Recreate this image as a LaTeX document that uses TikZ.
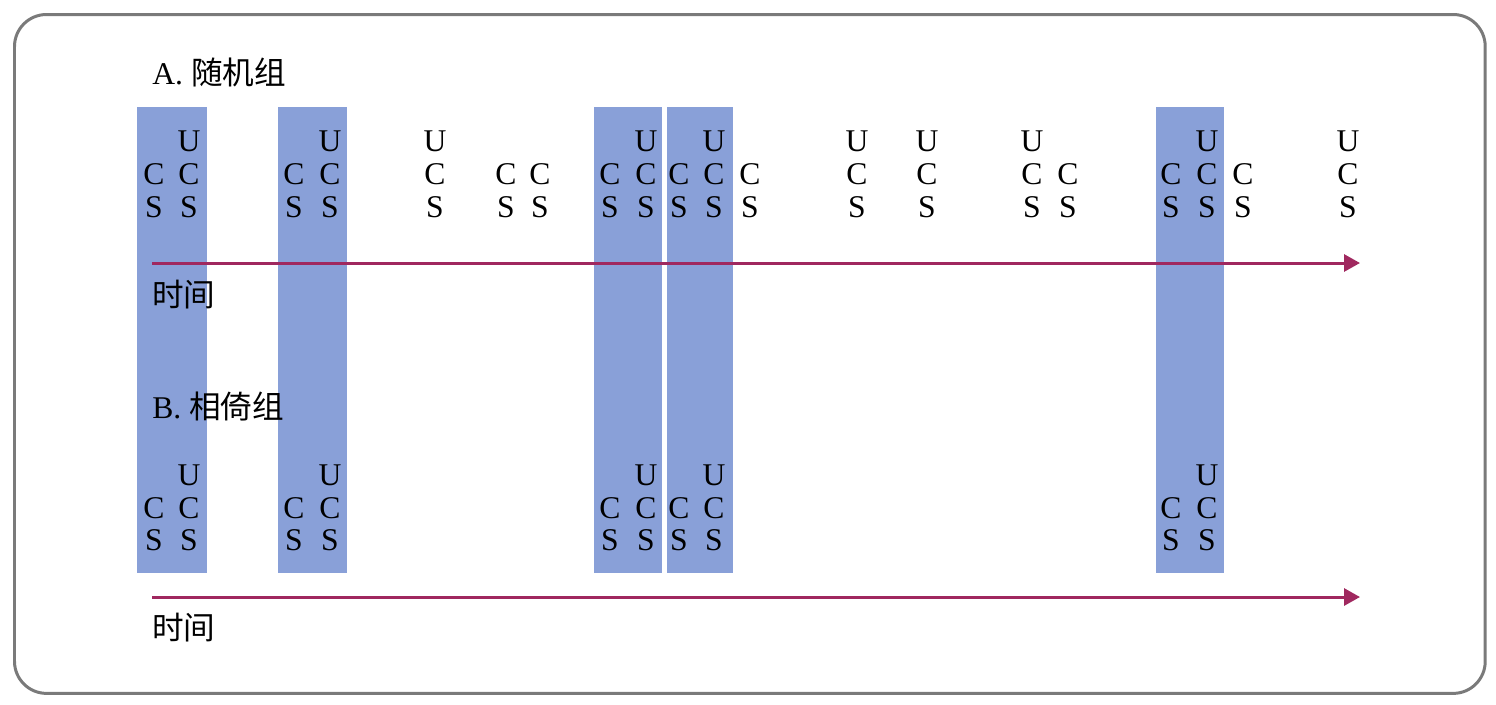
\documentclass[tikz,border=0pt]{standalone}
\usepackage{fontspec}
\setmainfont{Liberation Serif}
\newfontfamily\cjk{Noto Sans CJK SC}
\usetikzlibrary{arrows.meta}
\definecolor{barblue}{RGB}{137,160,216}
\definecolor{arrowred}{RGB}{160,40,95}
\definecolor{framegray}{RGB}{122,122,122}
\begin{document}
\begin{tikzpicture}[x=0.02cm,y=-0.02cm,
  letter/.style={anchor=base,inner sep=0pt,font=\fontsize{18}{18}\selectfont},
  grouplabel/.style={anchor=base west,inner sep=0pt,font=\fontsize{18}{18}\selectfont},
  bar/.style={fill=barblue,anchor=north west,inner sep=0pt,outer sep=0pt,draw=none},
  timeline/.style={draw=arrowred,line width=0.06cm,-{Triangle[length=0.32cm,width=0.34cm]}}]
\useasboundingbox (0,0) rectangle (1496,704);
\node[draw=framegray,line width=0.06cm,rounded corners=0.64cm,minimum width=29.42cm,minimum height=13.58cm,anchor=north west,inner sep=0pt] (frame) at (13,13) {};
% bars
\foreach \i/\l/\r in {1/137/207, 2/278/347, 3/594/662, 4/667/733, 5/1156/1224}
  \node[bar,minimum width={(\r-\l)*0.02cm},minimum height=9.32cm] (bar\i) at (\l,107) {};
% labels
\node[grouplabel] (labA) at (152,84) {A. {\cjk 随机组}};
\node[grouplabel] (labB) at (152,418) {B. {\cjk 相倚组}};
\node[grouplabel] (timeA) at (152,306) {\cjk 时间};
\node[grouplabel] (timeB) at (152,639) {\cjk 时间};
% arrows
\coordinate (a0) at (152,263); \coordinate (a1) at (1360,263);
\coordinate (b0) at (152,597); \coordinate (b1) at (1360,597);
\draw[timeline] (a0) -- (a1);
\draw[timeline] (b0) -- (b1);
% row A letters
\foreach \x/\u [count=\k] in {154/0,189/1,294/0,330/1,435/1,506/0,540/0,610/0,646/1,679/0,714/1,750/0,857/1,927/1,1032/1,1068/0,1171/0,1207/1,1243/0,1348/1}{
  \ifnum\u=1 \node[letter] (aU\k) at (\x,151) {U};\fi
  \node[letter] (aC\k) at (\x,184) {C};
  \node[letter] (aS\k) at (\x,217) {S};
}
% row B letters
\foreach \x/\u [count=\k] in {154/0,189/1,294/0,330/1,610/0,646/1,679/0,714/1,1171/0,1207/1}{
  \ifnum\u=1 \node[letter] (bU\k) at (\x,485) {U};\fi
  \node[letter] (bC\k) at (\x,518) {C};
  \node[letter] (bS\k) at (\x,550) {S};
}
\end{tikzpicture}
\end{document}
